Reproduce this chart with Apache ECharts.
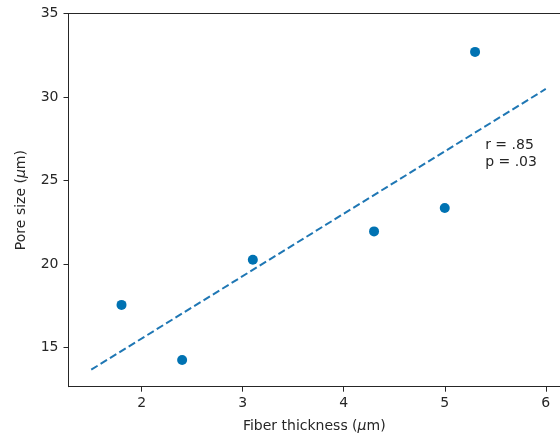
<!DOCTYPE html>
<html>
<head>
<meta charset="utf-8">
<script src="https://cdn.jsdelivr.net/npm/echarts@6/dist/echarts.min.js"></script>
<style>
  html, body { margin: 0; padding: 0; background: #fff; }
  #chart { width: 560px; height: 439px; }
</style>
</head>
<body>
<div id="chart"></div>
<script>
// Measured samples: fiber thickness (µm) vs. pore size (µm)
const fiberThickness = [1.8, 2.4, 3.1, 4.3, 5.0, 5.3];
const poreSize = [17.55, 14.25, 20.25, 21.95, 23.35, 32.7];

// Least-squares fit line, drawn between its two end points
const fitX = [1.5, 6.0];
const fitY = [13.67, 30.48];

// Tick values
const xTicks = [2, 3, 4, 5, 6];
const yTicks = [15, 20, 25, 30, 35];

// Correlation annotation
const statsLines = ['r = .85', 'p = .03'];
const statsAnchor = [5.4, 27];

const FONT = 'DejaVu Sans';
const INK = '#262626';

// Visible x range (the frame runs on past the right edge of the canvas)
const X_MIN = 1.275;
const X_MAX = 6.141;

const chart = echarts.init(document.getElementById('chart'), null, { renderer: 'canvas' });

const axisCommon = {
  type: 'value',
  splitLine: { show: false },
  axisLine: { show: true, onZero: false, lineStyle: { color: INK, width: 1 } },
  axisTick: { show: true, inside: false, length: 5, lineStyle: { color: INK, width: 1 } },
  axisLabel: { color: INK, fontFamily: FONT, fontSize: 14 },
  nameTextStyle: {
    color: INK, fontFamily: FONT, fontSize: 14,
    rich: { it: { fontStyle: 'italic', fontFamily: FONT, fontSize: 14, color: INK } }
  }
};

chart.setOption({
  animation: false,
  backgroundColor: '#ffffff',
  grid: { left: 68.5, top: 13.5, right: 0, bottom: 52.3, containLabel: false },
  xAxis: [
    Object.assign({}, axisCommon, {
      min: X_MIN, max: X_MAX,
      position: 'bottom',
      axisTick: Object.assign({}, axisCommon.axisTick, { customValues: xTicks }),
      axisLabel: Object.assign({}, axisCommon.axisLabel, { customValues: xTicks, margin: 10 }),
      name: 'Fiber thickness ({it|μ}m)',
      nameLocation: 'middle',
      nameGap: 33
    }),
    {
      type: 'value', min: X_MIN, max: X_MAX, position: 'top',
      axisLine: { show: true, onZero: false, lineStyle: { color: INK, width: 1 } },
      axisTick: { show: false }, axisLabel: { show: false }, splitLine: { show: false }
    }
  ],
  yAxis: Object.assign({}, axisCommon, {
    min: 12.65, max: 35,
    axisTick: Object.assign({}, axisCommon.axisTick, { customValues: yTicks }),
    axisLabel: Object.assign({}, axisCommon.axisLabel, { customValues: yTicks, margin: 10 }),
    name: 'Pore size ({it|μ}m)',
    nameLocation: 'middle',
    nameGap: 40
  }),
  series: [
    {
      type: 'line',
      data: fitX.map((x, i) => [x, fitY[i]]),
      showSymbol: false,
      symbol: 'none',
      lineStyle: { color: '#1f77b4', width: 2, type: [7.5, 3.5] },
      z: 2
    },
    {
      type: 'scatter',
      data: fiberThickness.map((x, i) => [x, poreSize[i]]),
      symbolSize: 10,
      itemStyle: { color: '#0072b2', opacity: 1 },
      z: 3
    }
  ]
});

// Place the r / p annotation at its data position
const anchor = chart.convertToPixel({ xAxisIndex: 0, yAxisIndex: 0 }, statsAnchor);
chart.setOption({
  graphic: statsLines.map((t, i) => ({
    type: 'text',
    x: anchor[0],
    y: anchor[1] - 2 + i * 17,
    style: {
      text: t, fill: INK, font: '14px "DejaVu Sans"',
      textAlign: 'left', textVerticalAlign: 'middle'
    }
  }))
});
</script>
</body>
</html>
